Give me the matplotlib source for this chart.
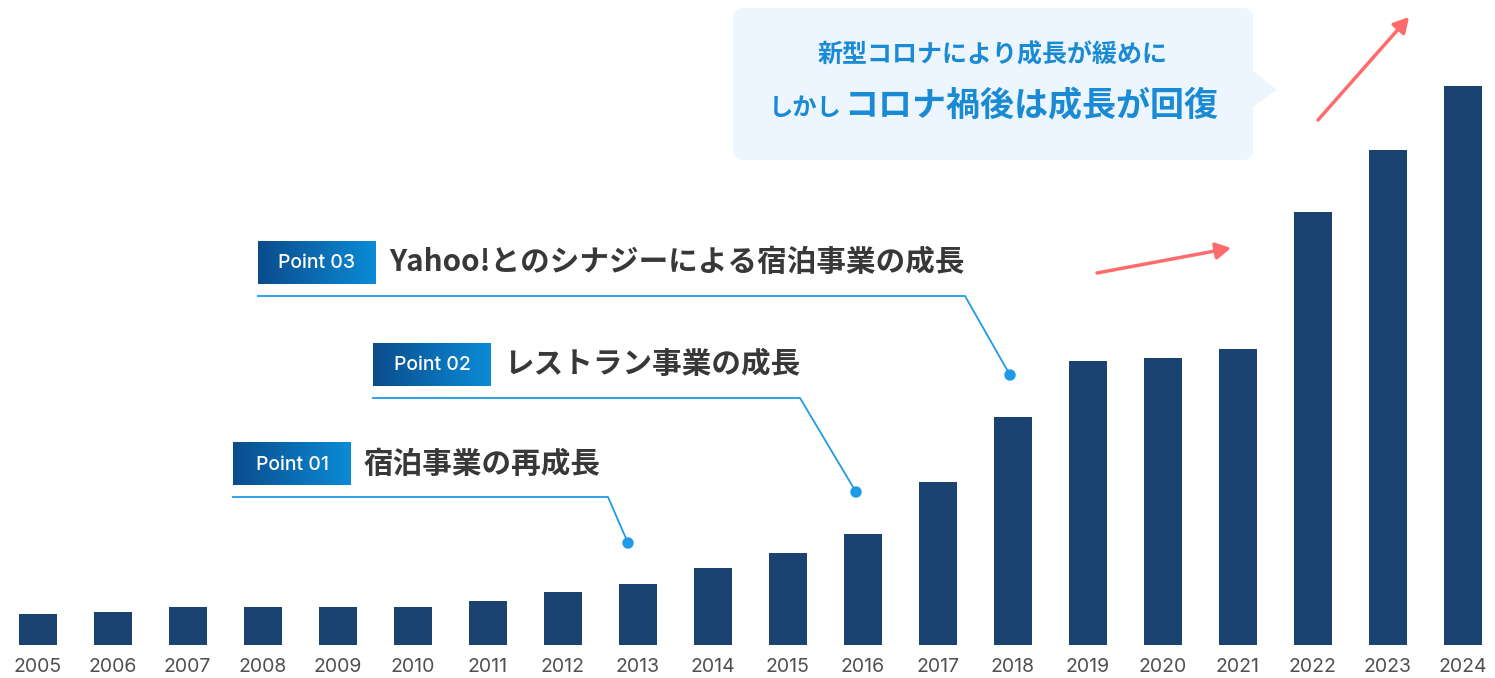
import matplotlib
matplotlib.use("Agg")
import matplotlib.pyplot as plt
import numpy as np
from matplotlib.patches import FancyBboxPatch, Polygon, Circle
from matplotlib.colors import LinearSegmentedColormap

plt.rcParams['font.family'] = ['Noto Sans CJK JP', 'DejaVu Sans']

years = ["2005", "2006", "2007", "2008", "2009", "2010", "2011", "2012", "2013", "2014",
         "2015", "2016", "2017", "2018", "2019", "2020", "2021", "2022", "2023", "2024"]
values = [31, 33, 38, 38, 38, 38, 44, 53, 61, 77, 92, 111, 163, 228, 284, 287, 296, 433, 495, 559]

point_tags = ["Point 01", "Point 02", "Point 03"]
point_texts = ["宿泊事業の再成長", "レストラン事業の成長", "Yahoo!とのシナジーによる宿泊事業の成長"]

callout_line1 = "新型コロナにより成長が緩めに"
callout_line2a = "しかし"
callout_line2b = "コロナ禍後は成長が回復"

W, H = 1495, 678
fig = plt.figure(figsize=(W / 100, H / 100), dpi=100)
fig.patch.set_facecolor("white")

ax = fig.add_axes([0, 0, 1, 1])
x = np.arange(len(years))
step = 75.0
x0pix = 37.5
ax.set_xlim(-x0pix / step, (W - x0pix) / step)
ax.set_ylim(-33, 645)
ax.bar(x, values, width=38 / step, color="#1b4372", zorder=2)
for xi, yr in zip(x, years):
    ax.text(xi, -22, yr, ha="center", va="center", fontsize=14, color="#505050",
            family=["Inter", "DejaVu Sans"])
ax.axis("off")

# overlay in pixel coords
ov = fig.add_axes([0, 0, 1, 1], zorder=5)
ov.set_xlim(0, W)
ov.set_ylim(H, 0)
ov.axis("off")
ov.patch.set_alpha(0)

cmap = LinearSegmentedColormap.from_list("g", ["#0b4c8c", "#0a8bd6"])
grad = np.linspace(0, 1, 256).reshape(1, -1)

line_col = "#1e9be6"
# (box_x, box_y_top, knee_x, dot_x, dot_y)
layouts = [
    (233, 442, 608, 628, 543),
    (373, 343, 800, 856, 492),
    (258, 241, 965, 1010, 375),
]
for (bx, by, kx, dx, dy), tag, txt in zip(layouts, point_tags, point_texts):
    bw, bh = 118, 43
    ov.imshow(grad, cmap=cmap, extent=(bx, bx + bw, by + bh, by), aspect="auto", zorder=3)
    ov.text(bx + bw / 2, by + bh / 2 + 1, tag, color="white", fontsize=14,
            ha="center", va="center", zorder=4, family=["Inter", "DejaVu Sans"], weight="medium")
    ov.text(bx + bw + 13, by + bh / 2, txt, color="#383838", fontsize=21.3,
            ha="left", va="center", zorder=4, weight="bold")
    ly = by + bh + 12
    ov.plot([bx, kx, dx], [ly, ly, dy], color=line_col, lw=1.3, zorder=3)
    ov.add_patch(Circle((dx, dy), 5, color=line_col, zorder=4))

# callout box
cb = FancyBboxPatch((733 + 10, 8 + 10), 520 - 20, 152 - 20,
                    boxstyle="round,pad=10", facecolor="#edf6fe", edgecolor="none", zorder=2)
ov.add_patch(cb)
ov.add_patch(Polygon([(1252, 70), (1277, 90), (1252, 107)], closed=True,
                     facecolor="#edf6fe", edgecolor="none", zorder=2))
ov.text(993, 55, callout_line1, color="#1a8ad4", fontsize=18, weight="bold",
        ha="center", va="center", zorder=4)
ov.text(769, 108, callout_line2a, color="#1a8ad4", fontsize=17.5, weight="bold",
        ha="left", va="center", zorder=4)
ov.text(844, 106, callout_line2b, color="#1a8ad4", fontsize=24.5, weight="bold",
        ha="left", va="center", zorder=4)

# red arrows
arrow_col = "#ff6b6b"
for (sx, sy, ex, ey) in [(1097, 273, 1231, 248), (1318, 120, 1409, 17)]:
    ov.annotate("", xy=(ex, ey), xytext=(sx, sy),
                arrowprops=dict(arrowstyle="-|>,head_length=0.9,head_width=0.5",
                                color=arrow_col, lw=2.5, shrinkA=0, shrinkB=0),
                zorder=4)

ov.set_xlim(0, W)
ov.set_ylim(H, 0)
fig.savefig("out.png", dpi=100, facecolor="white")
